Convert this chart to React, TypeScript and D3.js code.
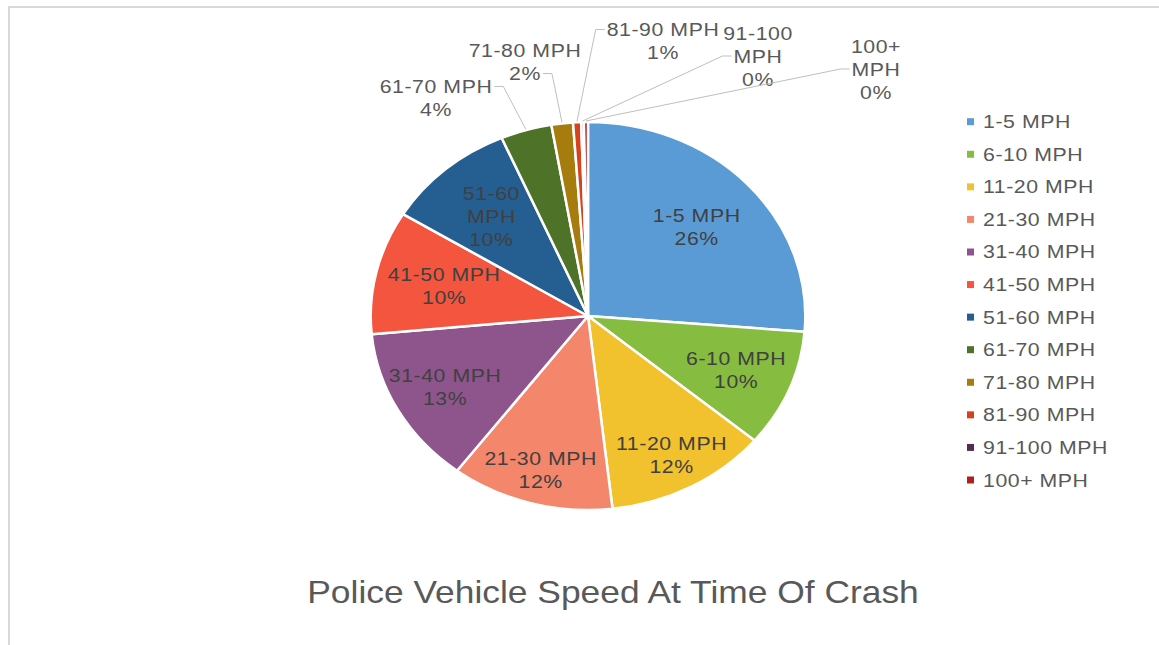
import { useEffect, useRef } from "react";
import * as d3 from "d3";

// chart data
const categories = [
    "1-5 MPH", "6-10 MPH", "11-20 MPH", "21-30 MPH", "31-40 MPH", "41-50 MPH",
    "51-60 MPH", "61-70 MPH", "71-80 MPH", "81-90 MPH", "91-100 MPH", "100+ MPH"
];
const shares = [26.3, 9.8, 12.1, 12.1, 13.2, 10.3, 9.7, 3.8, 1.6, 0.6, 0.2, 0.3];
const slice_colors = [
    "#5b9bd5", "#86bc40", "#f2c12e", "#f3866b", "#8e558c", "#f4553f",
    "#255e91", "#4e7227", "#a67c0f", "#d5421d", "#552a55", "#b01e1e"
];
const chart_title = "Police Vehicle Speed At Time Of Crash";

// labels that Excel wrapped onto extra lines
const wrapped_labels = ["51-60 MPH", "91-100 MPH", "100+ MPH"];

// outside label placement (offset of label block centre from pie centre)
const outside_label_offsets: Record<string, [number, number]> = {
    "61-70 MPH": [-152, -218],
    "71-80 MPH": [-63, -254],
    "81-90 MPH": [75, -275],
    "91-100 MPH": [170, -260],
    "100+ MPH": [288, -247]
};

// the source picture is stretched horizontally
const SX = 1.12;
const FONT = "'Liberation Sans', Arial, sans-serif";

export default function App() {
    const ref = useRef<SVGSVGElement>(null);

    useEffect(() => {
        const width = 1159;
        const height = 645;
        const cx = 588;
        const cy = 316;
        const radius = 194;
        const label_size = 19;
        const line_height = 23;
        const spacing = 0.5;

        const svg = d3.select(ref.current);
        svg.selectAll("*").remove();

        // measure text widths
        const ctx = document.createElement("canvas").getContext("2d")!;
        const measure = (s: string, size: number) => {
            ctx.font = size + "px " + FONT;
            return (ctx.measureText(s).width + spacing * s.length) * SX;
        };

        // frame
        svg.append("rect")
            .attr("x", 9).attr("y", 7)
            .attr("width", width + 20).attr("height", height + 20)
            .attr("fill", "#fff")
            .attr("stroke", "#d9d9d9")
            .attr("stroke-width", 2);

        const addText = (x: number, y: number, lines: string[], size: number, color: string) => {
            const t = svg.append("text")
                .attr("transform", "translate(" + x + "," + y + ") scale(" + SX + ",1)")
                .attr("text-anchor", "middle")
                .attr("font-family", FONT)
                .attr("font-size", size)
                .attr("letter-spacing", spacing)
                .attr("fill", color);
            lines.forEach(function(line, i) {
                t.append("tspan")
                    .attr("x", 0)
                    .attr("y", (i - (lines.length - 1) / 2) * line_height + size * 0.35)
                    .text(line);
            });
        };

        const total = d3.sum(shares);
        const data = categories.map(function(c, i) {
            return { name: c, value: shares[i], color: slice_colors[i] };
        });

        const pie = d3.pie<any>().sort(null).value(function(d) { return d.value; });
        const arc = d3.arc<any>().innerRadius(0).outerRadius(radius);
        const arcs = pie(data);

        // slices
        const g = svg.append("g")
            .attr("transform", "translate(" + cx + "," + cy + ") scale(" + SX + ",1)");
        g.selectAll("path")
            .data(arcs).enter()
            .append("path")
            .attr("d", arc)
            .attr("fill", function(d) { return d.data.color; })
            .attr("stroke", "#fff")
            .attr("stroke-width", 2.5)
            .attr("stroke-linejoin", "round")
            .attr("vector-effect", "non-scaling-stroke");

        // data labels
        arcs.forEach(function(d) {
            const name = d.data.name;
            const pct = Math.round(d.data.value / total * 100) + "%";
            const lines = wrapped_labels.indexOf(name) >= 0
                ? [...name.split(" "), pct]
                : [name, pct];
            const mid = (d.startAngle + d.endAngle) / 2;
            const offset = outside_label_offsets[name];

            if (!offset) {
                const f = 0.68 + 0.15 * Math.max(0, -Math.cos(mid));
                addText(cx + SX * Math.sin(mid) * radius * f,
                    cy - Math.cos(mid) * radius * f, lines, label_size, "#404040");
                return;
            }

            const lx = cx + offset[0];
            const ly = cy + offset[1];
            addText(lx, ly, lines, label_size, "#595959");

            // leader line to the nearest side of a label line
            const px = cx + SX * Math.sin(mid) * (radius + 1);
            const py = cy - Math.cos(mid) * (radius + 1);
            let best: [number, number, number] = [0, 0, 1];
            let best_dist = Infinity;
            lines.forEach(function(line, i) {
                const w = measure(line, label_size);
                const y = ly + (i - (lines.length - 1) / 2) * line_height;
                [-1, 1].forEach(function(side) {
                    const x = lx + side * (w / 2 + 2);
                    const dist = Math.hypot(x - px, y - py);
                    if (dist < best_dist) {
                        best_dist = dist;
                        best = [x, y, side];
                    }
                });
            });
            const stub = best[0] + best[2] * 9;
            svg.append("polyline")
                .attr("points", [[best[0], best[1]], [stub, best[1]], [px, py]].join(" "))
                .attr("fill", "none")
                .attr("stroke", "#bfbfbf")
                .attr("stroke-width", 1);
        });

        // legend
        const legend_y = d3.scalePoint().domain(categories).range([121.7, 480]);
        categories.forEach(function(c, i) {
            const y = legend_y(c)!;
            svg.append("rect")
                .attr("x", 967).attr("y", y - 3.5)
                .attr("width", 7).attr("height", 7)
                .attr("fill", slice_colors[i]);
            svg.append("text")
                .attr("transform", "translate(983," + (y + 6.5) + ") scale(" + SX + ",1)")
                .attr("font-family", FONT)
                .attr("font-size", label_size)
                .attr("letter-spacing", spacing)
                .attr("fill", "#595959")
                .text(c);
        });

        // title
        svg.append("text")
            .attr("transform", "translate(613,603) scale(" + SX + ",1)")
            .attr("text-anchor", "middle")
            .attr("font-family", FONT)
            .attr("font-size", 31.6)
            .attr("fill", "#595959")
            .text(chart_title);
    }, []);

    return (
        <div style={{ position: "absolute", left: 0, top: 0 }}>
            <svg ref={ref} width={1159} height={645} style={{ display: "block" }} />
        </div>
    );
}
